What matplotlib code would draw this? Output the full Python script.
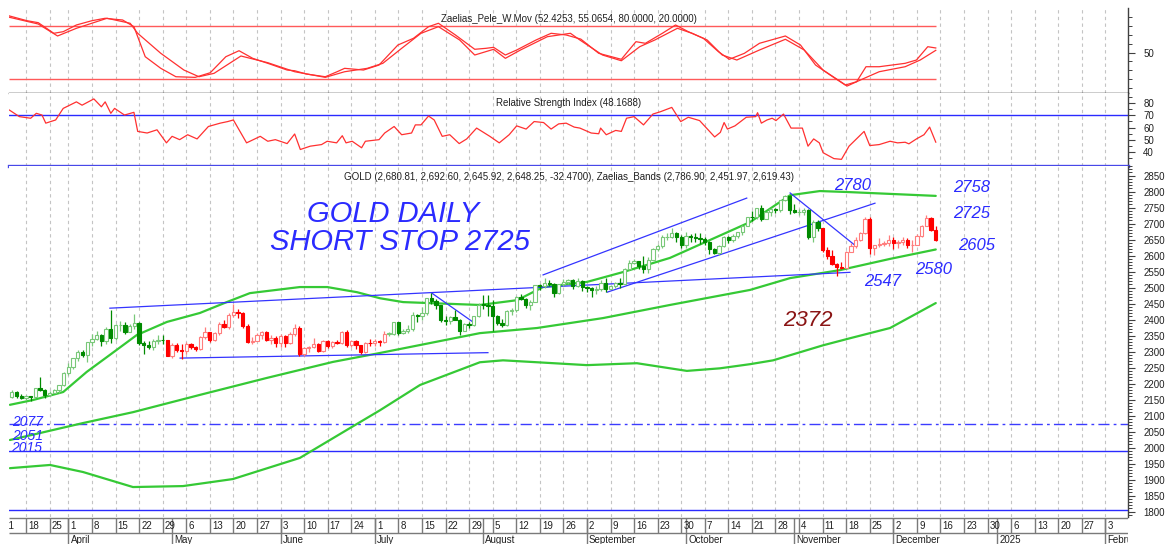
import numpy as np
import pandas as pd
import matplotlib
matplotlib.use("Agg")
import matplotlib.pyplot as plt

plt.rcParams['font.family'] = ['Liberation Sans', 'DejaVu Sans']

# ---------------- calendar (trading days, Good Friday closed) ----------------
calendar_start = "2024-03-11"
calendar_end = "2025-02-28"
closed_days = ["2024-03-29"]
first_candle = "2024-03-13"

# ---------------- daily OHLC (Mar 13 2024 .. Dec 13 2024) ----------------
opens = [
 2158, 2174, 2162,
 2155, 2160, 2157, 2186, 2181,
 2166, 2172, 2179, 2195,
 2233, 2251, 2280, 2300, 2291,
 2330, 2339, 2352, 2333, 2372,
 2344, 2383, 2383, 2361, 2379,
 2391, 2327, 2322, 2316, 2332,
 2337, 2335, 2286, 2320, 2304,
 2302, 2323, 2314, 2309, 2346,
 2360, 2336, 2358, 2386, 2376,
 2415, 2425, 2421, 2379, 2329,
 2334, 2351, 2361, 2338, 2343,
 2327, 2350, 2327, 2355, 2375,
 2294, 2311, 2316, 2324, 2303,
 2333, 2319, 2330, 2328, 2360,
 2322, 2334, 2320, 2298, 2327,
 2326, 2332, 2330, 2356, 2356,
 2392, 2359, 2364, 2371, 2415,
 2411, 2422, 2469, 2459, 2445,
 2400, 2396, 2409, 2398, 2364,
 2387, 2384, 2411, 2447, 2446,
 2443, 2410, 2390, 2382, 2427,
 2431, 2472, 2465, 2447, 2456,
 2507, 2504, 2514, 2512, 2484,
 2512, 2518, 2525, 2504, 2521,
 2503, 2500, 2493, 2495, 2516,
 2497, 2506, 2516, 2512, 2558,
 2578, 2582, 2569, 2559, 2587,
 2622, 2629, 2657, 2657, 2672,
 2658, 2634, 2663, 2657, 2656,
 2653, 2644, 2622, 2608, 2630,
 2657, 2649, 2662, 2674, 2693,
 2721, 2720, 2748, 2715, 2736,
 2747, 2742, 2774, 2788, 2744,
 2736, 2736, 2742, 2659, 2706,
 2685, 2619, 2598, 2573, 2565,
 2563, 2612, 2631, 2650, 2670,
 2715, 2625, 2633, 2638, 2639,
 2650, 2640, 2643, 2650, 2632,
 2633, 2660, 2694, 2718, 2680.81,
]
highs = [
 2180, 2176, 2168,
 2165, 2163, 2188, 2222, 2183,
 2177, 2184, 2196, 2236,
 2265, 2281, 2305, 2305, 2330,
 2354, 2365, 2354, 2378, 2431,
 2385, 2395, 2392, 2385, 2417,
 2392, 2334, 2334, 2339, 2352,
 2353, 2337, 2326, 2326, 2324,
 2331, 2326, 2319, 2348, 2378,
 2361, 2362, 2393, 2398, 2422,
 2450, 2432, 2424, 2385, 2345,
 2358, 2364, 2364, 2352, 2349,
 2355, 2353, 2360, 2388, 2379,
 2315, 2318, 2342, 2327, 2336,
 2335, 2333, 2335, 2365, 2368,
 2335, 2335, 2322, 2331, 2340,
 2340, 2335, 2365, 2363, 2392,
 2393, 2371, 2382, 2424, 2418,
 2440, 2469, 2483, 2465, 2447,
 2411, 2412, 2431, 2402, 2390,
 2393, 2413, 2451, 2477, 2477,
 2461, 2414, 2402, 2430, 2438,
 2474, 2479, 2468, 2463, 2509,
 2510, 2531, 2525, 2514, 2512,
 2527, 2528, 2527, 2529, 2523,
 2505, 2503, 2504, 2523, 2529,
 2508, 2518, 2529, 2560, 2586,
 2590, 2584, 2600, 2596, 2625,
 2635, 2664, 2670, 2685, 2674,
 2665, 2673, 2669, 2672, 2670,
 2657, 2645, 2625, 2634, 2661,
 2660, 2667, 2675, 2696, 2722,
 2740, 2749, 2759, 2738, 2748,
 2749, 2775, 2790, 2790, 2761,
 2746, 2750, 2746, 2711, 2710,
 2686, 2626, 2618, 2577, 2581,
 2615, 2639, 2657, 2674, 2721,
 2722, 2634, 2656, 2645, 2665,
 2657, 2648, 2658, 2654, 2648,
 2667, 2695, 2726, 2721, 2692.60,
]
lows = [
 2155, 2155, 2153,
 2150, 2146, 2154, 2176, 2156,
 2163, 2170, 2172, 2192,
 2228, 2246, 2270, 2282, 2267,
 2319, 2338, 2319, 2325, 2326,
 2336, 2364, 2354, 2360, 2372,
 2320, 2292, 2309, 2306, 2325,
 2325, 2285, 2281, 2298, 2277,
 2292, 2308, 2303, 2306, 2340,
 2330, 2333, 2353, 2373, 2372,
 2408, 2405, 2374, 2326, 2325,
 2332, 2341, 2334, 2323, 2315,
 2314, 2314, 2325, 2348, 2287,
 2287, 2298, 2313, 2300, 2299,
 2310, 2311, 2324, 2325, 2316,
 2316, 2309, 2293, 2295, 2319,
 2318, 2318, 2326, 2350, 2353,
 2353, 2355, 2357, 2365, 2393,
 2400, 2414, 2448, 2433, 2393,
 2384, 2385, 2398, 2353, 2364,
 2375, 2380, 2408, 2432, 2410,
 2364, 2384, 2376, 2380, 2415,
 2424, 2460, 2438, 2431, 2454,
 2492, 2500, 2505, 2470, 2480,
 2504, 2510, 2497, 2502, 2490,
 2487, 2472, 2480, 2490, 2485,
 2495, 2500, 2500, 2510, 2555,
 2574, 2559, 2547, 2546, 2585,
 2614, 2624, 2650, 2655, 2643,
 2625, 2625, 2643, 2642, 2635,
 2633, 2604, 2604, 2603, 2626,
 2639, 2642, 2654, 2664, 2692,
 2708, 2714, 2708, 2715, 2723,
 2732, 2737, 2770, 2730, 2733,
 2728, 2727, 2652, 2643, 2677,
 2610, 2590, 2572, 2536, 2557,
 2562, 2610, 2623, 2645, 2668,
 2605, 2602, 2626, 2630, 2629,
 2622, 2624, 2633, 2625, 2613,
 2632, 2657, 2692, 2677, 2645.92,
]
closes = [
 2174, 2162, 2155,
 2160, 2157, 2186, 2181, 2166,
 2172, 2179, 2195, 2233,
 2251, 2280, 2300, 2291, 2330,
 2339, 2352, 2333, 2372, 2344,
 2383, 2383, 2361, 2379, 2391,
 2327, 2322, 2316, 2332, 2337,
 2335, 2286, 2320, 2304, 2302,
 2323, 2314, 2309, 2346, 2360,
 2336, 2358, 2386, 2376, 2415,
 2425, 2421, 2379, 2329, 2334,
 2351, 2361, 2338, 2343, 2327,
 2350, 2327, 2355, 2375, 2294,
 2311, 2316, 2324, 2303, 2333,
 2319, 2330, 2328, 2360, 2322,
 2334, 2320, 2298, 2327, 2326,
 2332, 2330, 2356, 2356, 2392,
 2359, 2364, 2371, 2415, 2411,
 2422, 2469, 2459, 2445, 2400,
 2396, 2409, 2398, 2364, 2387,
 2384, 2411, 2447, 2446, 2443,
 2410, 2390, 2382, 2427, 2431,
 2472, 2465, 2447, 2456, 2507,
 2504, 2514, 2512, 2484, 2512,
 2518, 2525, 2504, 2521, 2503,
 2500, 2493, 2495, 2516, 2497,
 2506, 2516, 2512, 2558, 2578,
 2582, 2569, 2559, 2587, 2622,
 2629, 2657, 2657, 2672, 2658,
 2634, 2663, 2657, 2656, 2653,
 2644, 2622, 2608, 2630, 2657,
 2649, 2662, 2674, 2693, 2721,
 2720, 2748, 2715, 2736, 2747,
 2742, 2774, 2788, 2744, 2736,
 2736, 2742, 2659, 2706, 2685,
 2619, 2598, 2573, 2565, 2563,
 2612, 2631, 2650, 2670, 2715,
 2625, 2633, 2638, 2639, 2650,
 2640, 2643, 2650, 2632, 2633,
 2660, 2694, 2718, 2681, 2648.25,
]
# trend regimes drawn in red (others green)
red_regimes = [("2024-04-30", "2024-07-03"), ("2024-11-11", "2024-12-13")]

# ---------------- Zaelias bands (trading-day number from Mar 11, value) ----------------
upper_x = [1.6, 6.5, 12.9, 17.9, 22.8, 28.5, 34.9, 41.9, 47.6, 52.5, 63.1, 68.9, 75.2, 80.1,
           85.0, 101.3, 109.2, 114.7, 124.0, 131.7, 141.6, 158.6, 167.1, 173.4, 179.2, 198]
upper_v = [2134, 2149, 2174, 2237, 2290, 2352, 2393, 2421, 2455, 2483, 2502, 2502, 2486, 2467,
           2455, 2446, 2461, 2502, 2518, 2549, 2593, 2705, 2789, 2802, 2799, 2786.9]
middle_x = [1.6, 17.1, 27.7, 41.9, 56.1, 70.1, 80.1, 101.3, 113.4, 127.4, 141.6, 158.6, 167.1,
            177.7, 188.3, 198]
middle_v = [2024, 2077, 2111, 2165, 2218, 2268, 2296, 2358, 2374, 2405, 2446, 2493, 2530,
            2555, 2590, 2619.43]
lower_x = [1.6, 10.1, 17.1, 27.7, 38.3, 48.9, 63.1, 73.7, 80.1, 88.6, 101.3, 106.2, 113.4, 124.0,
           134.6, 145.2, 152.2, 158.6, 163.5, 174.1, 179.8, 188.3, 198]
lower_v = [1936, 1946, 1924, 1877, 1880, 1902, 1968, 2061, 2117, 2196, 2267, 2273, 2267, 2258,
           2264, 2240, 2248, 2261, 2273, 2320, 2342, 2374, 2451.97]

# ---------------- hand-drawn trend lines (day0, price0, day1, price1) ----------------
trend_x0 = [22.8, 37.7, 91.1, 114.7, 128.3, 167.1]
trend_p0 = [2436, 2280, 2483, 2540, 2486, 2796]
trend_x1 = [179.8, 103.0, 99.8, 157.9, 185.1, 180.9]
trend_p1 = [2548, 2297, 2393, 2780, 2764, 2632]
level_dashdot = 2073
level_solid = [1990, 1805]

# ---------------- Pele W.Mov oscillator ----------------
pele1_x = [1.5, 5.2, 7.6, 10.9, 12.9, 15.7, 19.0, 21.8, 23.8, 25.5, 27.9, 30.3, 33.6, 36.8, 40.9,
           44.1, 47.4, 50.2, 53.1, 56.3, 60.4, 62.0, 64.5, 68.5, 71.0, 72.6, 76.6, 79.9, 83.9,
           87.2, 90.4, 92.5, 96.1, 100.2, 102.6, 104.2, 106.7, 109.1, 113.2, 116.4, 119.6, 122.7,
           126.5, 131.3, 134.4, 136.4, 140.0, 142.8, 145.5, 148.7, 151.9, 154.2, 157.4, 160.6,
           166.1, 169.3, 172.5, 175.6, 178.8, 181.2, 183.2, 186.0, 191.5, 193.9, 196.3, 198]
pele1_v = [90.9, 85.6, 83.4, 71.5, 73.3, 80.8, 85.6, 88.3, 87.2, 86.4, 78.9, 45.3, 32.3, 22.9, 22.2,
           27.4, 45.3, 52.0, 43.5, 37.9, 30.4, 29.6, 25.9, 22.9, 28.5, 32.3, 30.4, 36.0, 58.4,
           65.9, 78.9, 82.7, 69.6, 53.6, 54.7, 55.8, 47.2, 52.8, 64.0, 71.5, 69.6, 65.0,
           49.1, 42.4, 62.1, 60.3, 71.5, 80.8, 73.3, 65.9, 50.9, 42.4, 49.1, 60.3,
           68.5, 58.4, 36.0, 24.8, 13.6, 17.3, 34.1, 34.1, 37.9, 41.6, 56.5, 55.07]
pele2_x = [1.5, 7.6, 11.7, 15.7, 22.2, 27.1, 28.7, 33.6, 38.5, 41.7, 44.9, 50.6, 56.3, 62.0, 68.5,
           72.6, 77.4, 80.7, 84.7, 88.8, 92.5, 97.0, 100.2, 104.2, 106.7, 109.9, 115.6, 120.5,
           122.5, 127.3, 131.3, 135.2, 138.4, 143.2, 146.3, 149.5, 152.7, 155.8, 160.6, 166.1,
           170.1, 174.1, 179.2, 182.8, 186.0, 191.5, 194.7, 198]
pele2_v = [89.4, 81.9, 68.5, 77.1, 88.3, 82.7, 71.5, 49.1, 30.4, 22.9, 26.7, 46.1, 38.6, 28.5, 22.2,
           28.5, 32.3, 37.9, 54.7, 71.5, 78.9, 64.0, 47.2, 53.6, 43.5, 52.8, 67.7, 71.5,
           64.0, 47.2, 40.8, 56.5, 64.0, 77.1, 71.5, 64.0, 47.2, 41.6, 52.8, 64.8,
           52.8, 30.4, 12.5, 21.1, 28.5, 34.1, 41.6, 52.43]

# ---------------- RSI ----------------
rsi_x = [1.5, 3.6, 6.0, 7.2, 8.4, 9.2, 11.3, 12.9, 15.7, 16.9, 19.4, 21.0, 21.8, 23.0, 23.8, 25.9,
         27.9, 28.7, 30.7, 32.8, 34.8, 36.0, 37.6, 39.3, 41.3, 43.7, 46.2, 47.8, 49.0, 51.8, 54.7,
         56.3, 57.9, 60.4, 62.0, 63.2, 65.3, 67.7, 68.9, 70.9, 72.1, 72.9, 74.2, 76.2, 77.0, 79.9,
         81.1, 83.1, 84.7, 86.8, 87.6, 88.8, 90.4, 91.6, 93.3, 94.9, 96.9, 98.5, 100.6, 103.4,
         105.4, 107.5, 109.1, 111.1, 112.8, 114.8, 116.4, 118.0, 119.6, 121.3, 122.5, 124.9,
         126.5, 126.9, 128.1, 130.1, 131.3, 132.4, 134.0, 136.0, 138.0, 139.6, 142.0, 143.9,
         145.5, 147.9, 151.1, 152.3, 153.1, 153.8, 155.4, 157.8, 159.8, 160.2, 161.0, 162.2,
         163.3, 164.1, 165.7, 167.3, 169.7, 170.9, 172.1, 173.3, 174.1, 176.4, 178.0, 179.6,
         182.8, 184.0, 186.0, 188.3, 189.9, 191.5, 192.3, 193.9, 195.5, 196.7, 198]
rsi_v = [74.2, 68.9, 67.6, 71.6, 70.2, 63.6, 66.2, 75.6, 80.9, 78.2, 83.3, 76.9, 80.9, 71.6, 75.6, 70.2,
         72.4, 56.9, 55.6, 58.2, 47.6, 52.9, 50.2, 54.2, 50.8, 60.9, 63.6, 64.9, 66.2, 47.6, 52.9,
         48.9, 50.2, 47.0, 54.8, 42.2, 44.9, 46.2, 48.9, 47.6, 53.4, 47.6, 48.9, 43.6, 48.9, 50.2,
         55.6, 60.9, 54.2, 55.6, 62.2, 62.2, 69.4, 66.2, 52.9, 54.2, 47.0, 50.8, 59.6, 52.9,
         47.6, 54.2, 61.4, 58.8, 64.9, 64.1, 58.8, 63.0, 63.6, 60.4, 59.6, 55.6,
         55.0, 59.6, 54.2, 57.7, 56.9, 67.6, 68.9, 62.2, 71.0, 72.9, 76.4, 64.9,
         68.4, 65.7, 52.4, 56.1, 64.1, 58.8, 61.4, 68.4, 68.9, 72.1, 63.6, 66.2,
         67.6, 65.7, 71.0, 59.6, 59.6, 44.9, 50.8, 47.6, 39.6, 34.8, 34.2, 44.9,
         56.9, 45.4, 46.2, 48.9, 47.6, 48.1, 46.8, 50.8, 54.2, 60.4, 48.17]

assert len(opens) == len(highs) == len(lows) == len(closes)
assert len(pele1_x) == len(pele1_v) and len(pele2_x) == len(pele2_v) and len(rsi_x) == len(rsi_v)

# ---------------- calendar positions ----------------
days = pd.bdate_range(calendar_start, calendar_end)
days = days[~days.isin(pd.to_datetime(closed_days))]
pos0 = days.get_loc(pd.Timestamp(first_candle))
cx = np.arange(pos0, pos0 + len(closes))

W, H = 1166, 544
fig = plt.figure(figsize=(W / 100, H / 100), dpi=100)
fig.patch.set_facecolor('white')


def fr(x0, y0, x1, y1):
    return [x0 / W, 1 - y1 / H, (x1 - x0) / W, (y1 - y0) / H]


XL = (1.40, 238.78)
ax_top = fig.add_axes(fr(9, 8, 1128, 93))
ax_rsi = fig.add_axes(fr(9, 93, 1128, 166))
ax_main = fig.add_axes(fr(9, 166, 1128, 517))
ax_date = fig.add_axes(fr(9, 517, 1128, 544))

week_starts = [i for i in range(1, len(days)) if days[i].weekday() < days[i - 1].weekday()]
week_starts = [w for w in [0] + week_starts if w < XL[1]]
month_starts = [i for i in range(1, len(days))
                if days[i].month != days[i - 1].month and i < XL[1]]

GRID = dict(color='#c4c4c4', lw=0.8, linestyle=(0, (3, 3)), zorder=0)
for ax in (ax_top, ax_rsi, ax_main):
    ax.set_xlim(*XL)
    ax.set_facecolor('white')
    for s in ('left', 'top', 'bottom'):
        ax.spines[s].set_visible(False)
    ax.spines['right'].set_color('#404040')
    ax.spines['right'].set_linewidth(1.0)
    ax.set_xticks([])
    ax.yaxis.tick_right()
    ax.tick_params(axis='y', which='major', direction='out', length=5, width=0.8,
                   color='#404040', labelsize=7, pad=6, labelcolor='#202020')
    ax.tick_params(axis='y', which='minor', direction='out', length=3, width=0.7, color='#404040')
    for w in week_starts:
        ax.axvline(w, **GRID)

# ---------------- top panel: Pele W.Mov ----------------
ax_top.set_ylim(4.7, 99.8)
ax_top.spines['bottom'].set_visible(True)
ax_top.spines['bottom'].set_color('black')
ax_top.spines['bottom'].set_linewidth(1.0)
ax_top.hlines([80, 20], XL[0], cx[-1], color='#ff5a5a', lw=1.0, zorder=2)
ax_top.plot(pele1_x, pele1_v, color='#ff3030', lw=0.9, zorder=3)
ax_top.plot(pele2_x, pele2_v, color='#ff3030', lw=0.9, zorder=3)
ax_top.set_yticks([50])
ax_top.set_yticklabels(['50'])
ax_top.set_yticks([10, 20, 30, 40, 60, 70, 80, 90], minor=True)
ax_top.text(0.5, 0.87, 'Zaelias_Pele_W.Mov (52.4253, 55.0654, 80.0000, 20.0000)',
            transform=ax_top.transAxes, ha='center', va='center', fontsize=7, color='#202020')

# ---------------- RSI panel ----------------
ax_rsi.set_ylim(28.8, 88.1)
ax_rsi.spines['bottom'].set_visible(True)
ax_rsi.spines['bottom'].set_color('#4848e8')
ax_rsi.spines['bottom'].set_linewidth(2.4)
ax_rsi.axhline(70, color='#2a2aff', lw=1.0, zorder=2)
ax_rsi.plot(rsi_x, rsi_v, color='#ff3030', lw=0.9, zorder=3)
ax_rsi.set_yticks([40, 50, 60, 70, 80])
ax_rsi.set_yticks([35, 45, 55, 65, 75, 85], minor=True)
ax_rsi.text(0.5, 0.863, 'Relative Strength Index (48.1688)', transform=ax_rsi.transAxes,
            ha='center', va='center', fontsize=7, color='#202020')

# ---------------- main panel ----------------
ax_main.set_ylim(1783.4, 2880.3)
ax_main.set_yticks(np.arange(1800, 2851, 50))
ax_main.set_yticks(np.arange(1790, 2881, 10), minor=True)
ax_main.axhline(level_dashdot, color='#3c3cff', lw=1.0, linestyle=(0, (8, 3, 2, 3)), zorder=1)
for lv in level_solid:
    ax_main.axhline(lv, color='#2a2aff', lw=1.0, zorder=1)

band_kw = dict(color='#35c935', lw=1.6, zorder=2, solid_capstyle='round')
ax_main.plot(upper_x, upper_v, **band_kw)
ax_main.plot(middle_x, middle_v, **band_kw)
ax_main.plot(lower_x, lower_v, **band_kw)

for x0, p0, x1, p1 in zip(trend_x0, trend_p0, trend_x1, trend_p1):
    ax_main.plot([x0, x1], [p0, p1], color='#3434ff', lw=0.9, zorder=2.5)

red_ranges = [(days.get_loc(pd.Timestamp(a)), days.get_loc(pd.Timestamp(b))) for a, b in red_regimes]
bw = 0.7
for x, o, h, l, c in zip(cx, opens, highs, lows, closes):
    red = any(a <= x <= b for a, b in red_ranges)
    if red:
        dark, light = '#ff0000', '#ff7d7d'
    else:
        dark, light = '#008a00', '#79c879'
    up = c >= o
    col = light if up else dark
    ax_main.vlines(x, l, h, color=col, lw=0.9, zorder=3)
    lo, hgt = min(o, c), max(abs(c - o), 1.5)
    ax_main.bar(x, hgt, bottom=lo, width=bw, facecolor='white' if up else dark,
                edgecolor=col, linewidth=0.8, zorder=4)

ax_main.text(0.5, 0.9687,
             'GOLD (2,680.81, 2,692.60, 2,645.92, 2,648.25, -32.4700), '
             'Zaelias_Bands (2,786.90, 2,451.97, 2,619.43)',
             transform=ax_main.transAxes, ha='center', va='center', fontsize=7, color='#202020')

# hand-written annotations
HAND = ['Liberation Sans Narrow', 'Liberation Sans', 'DejaVu Sans']
BLUE = '#2b2bff'


def note(x, y, s, size, color=BLUE, fam=None):
    fig.text(x / W, 1 - y / H, s, ha='center', va='center', fontsize=size, color=color,
             style='italic', family=fam or ['Liberation Sans', 'DejaVu Sans'])


note(393, 214, 'GOLD DAILY', 21, fam=HAND)
note(400, 242, 'SHORT STOP 2725', 21, fam=HAND)
note(853, 185, '2780', 12)
note(972, 188, '2758', 12)
note(972, 213, '2725', 12)
note(977, 245, '2605', 12)
note(934, 270, '2580', 12)
note(883, 281, '2547', 12)
note(808, 321, '2372', 16, color='#8a1414')
note(28, 422, '2077', 10)
note(28, 436, '2051', 10)
note(27, 448, '2015', 10)

# ---------------- date axis ----------------
ax_date.set_xlim(*XL)
ax_date.set_ylim(544, 517)
ax_date.axis('off')
LC = '#7a7a7a'
ax_date.hlines([518, 533], XL[0], XL[1], color=LC, lw=1.0)
for w in week_starts:
    ax_date.vlines(w, 518, 533, color=LC, lw=1.0)
    ax_date.text(w + 0.45, 525.8, str(days[w].day), ha='left', va='center', fontsize=7,
                 color='#202020', clip_on=True)
for m in month_starts:
    ax_date.vlines(m, 518, 544, color=LC, lw=1.0)
    d = days[m]
    name = str(d.year) if d.month == 1 else d.strftime('%B')
    ax_date.text(m + 0.45, 539.5, name, ha='left', va='center', fontsize=7,
                 color='#202020', clip_on=True)

fig.savefig('out.png', dpi=100, facecolor='white')
